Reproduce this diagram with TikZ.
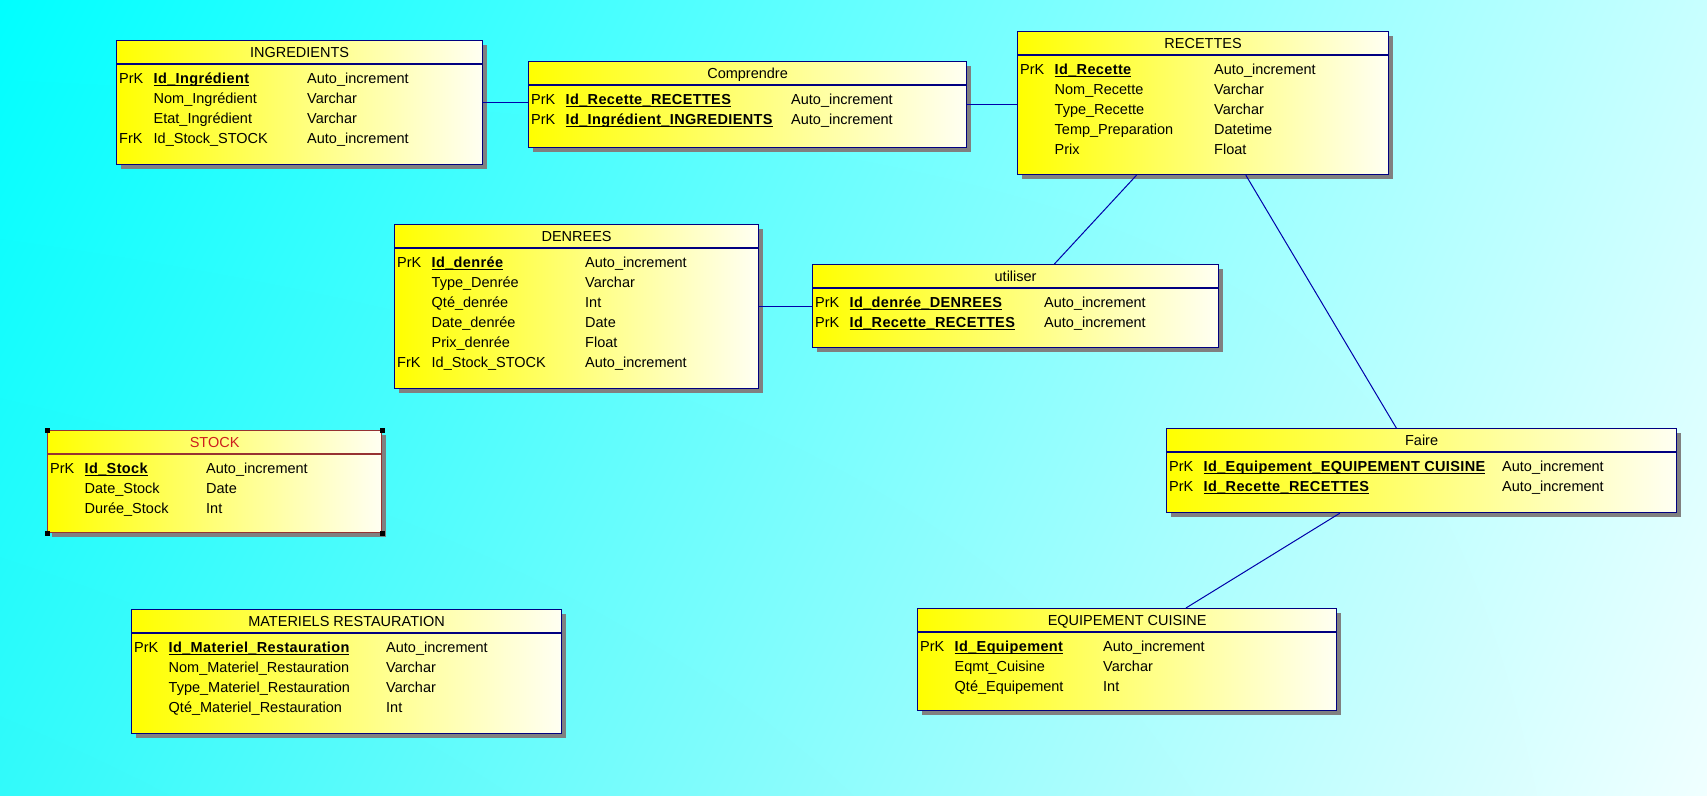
\documentclass[tikz,border=0pt]{standalone}
\usepackage{fontspec}
\setmainfont{Liberation Sans}
\usetikzlibrary{shadows,shadings,calc}

\definecolor{fondA}{RGB}{0,255,255}
\definecolor{fondB}{RGB}{200,255,255}
\definecolor{fondC}{RGB}{50,250,250}
\definecolor{fondD}{RGB}{240,255,255}
\definecolor{bleu}{RGB}{0,0,128}
\definecolor{lien}{RGB}{0,0,170}
\definecolor{jaune}{RGB}{255,255,0}
\definecolor{creme}{RGB}{255,255,242}
\definecolor{ombre}{RGB}{128,128,128}
\definecolor{brique}{RGB}{150,50,50}
\definecolor{rouge}{RGB}{205,30,30}

\tikzset{
  Table/.style={rectangle, draw=bleu, line width=1.2pt, anchor=north west, inner sep=0pt,
    left color=jaune, right color=creme,
    drop shadow={shadow xshift=4pt, shadow yshift=-4pt, fill=ombre, opacity=1}},
  Choisie/.style={draw=brique},
  Texte/.style={anchor=base west, inner sep=0pt, font=\fontsize{14.5}{17}\selectfont},
  Titre/.style={Texte, anchor=base},
  Lien/.style={draw=lien, line width=1pt},
}

\newsavebox\clebox
\newcommand{\Cle}[1]{\sbox\clebox{\bfseries\addfontfeature{LetterSpace=2.5}#1}\rlap{\rule[-2.6pt]{\wd\clebox}{1.1pt}}\usebox\clebox}

% table: [style], nom, x, y, largeur, hauteur, titre
\newcommand{\Entite}[7][]{
  \node[Table, #1, minimum width=#5pt, minimum height=#6pt] (#2) at (#3,#4) {};
  \draw[bleu, line width=1.2pt, #1] ([yshift=-24pt]#2.north west) -- ([yshift=-24pt]#2.north east);
  \node[Titre] (#2-titre) at ([yshift=-17pt]#2.north) {#7};
}
% ligne: table, rang, cle, champ, decalage du type, type
\newcommand{\Attribut}[6]{
  \if\relax\detokenize{#3}\relax\else
    \node[Texte] (#1-k#2) at ([xshift=3pt, yshift={-23.5pt-20pt*#2}]#1.north west) {#3};
  \fi
  \node[Texte] (#1-c#2) at ([xshift=37.5pt, yshift={-23.5pt-20pt*#2}]#1.north west) {#4};
  \node[Texte] (#1-t#2) at ([xshift=#5pt, yshift={-23.5pt-20pt*#2}]#1.north west) {#6};
}

\begin{document}
\begin{tikzpicture}[x=1pt, y=-1pt]
\useasboundingbox (0,0) rectangle (1707,795);
\shade[upper left=fondA, upper right=fondB, lower left=fondC, lower right=fondD] (0,0) rectangle (1707,795);

\Entite{ingr}{116}{40}{366}{124}{INGREDIENTS}
\Attribut{ingr}{1}{PrK}{\Cle{Id\_Ingrédient}}{191}{Auto\_increment}
\Attribut{ingr}{2}{}{Nom\_Ingrédient}{191}{Varchar}
\Attribut{ingr}{3}{}{Etat\_Ingrédient}{191}{Varchar}
\Attribut{ingr}{4}{FrK}{Id\_Stock\_STOCK}{191}{Auto\_increment}

\Entite{compr}{528}{61}{438}{86}{Comprendre}
\Attribut{compr}{1}{PrK}{\Cle{Id\_Recette\_RECETTES}}{263}{Auto\_increment}
\Attribut{compr}{2}{PrK}{\Cle{Id\_Ingrédient\_INGREDIENTS}}{263}{Auto\_increment}

\Entite{rec}{1017}{31}{371}{143}{RECETTES}
\Attribut{rec}{1}{PrK}{\Cle{Id\_Recette}}{197}{Auto\_increment}
\Attribut{rec}{2}{}{Nom\_Recette}{197}{Varchar}
\Attribut{rec}{3}{}{Type\_Recette}{197}{Varchar}
\Attribut{rec}{4}{}{Temp\_Preparation}{197}{Datetime}
\Attribut{rec}{5}{}{Prix}{197}{Float}

\Entite{den}{394}{224}{364}{164}{DENREES}
\Attribut{den}{1}{PrK}{\Cle{Id\_denrée}}{191}{Auto\_increment}
\Attribut{den}{2}{}{Type\_Denrée}{191}{Varchar}
\Attribut{den}{3}{}{Qté\_denrée}{191}{Int}
\Attribut{den}{4}{}{Date\_denrée}{191}{Date}
\Attribut{den}{5}{}{Prix\_denrée}{191}{Float}
\Attribut{den}{6}{FrK}{Id\_Stock\_STOCK}{191}{Auto\_increment}

\Entite{util}{812}{264}{406}{83}{utiliser}
\Attribut{util}{1}{PrK}{\Cle{Id\_denrée\_DENREES}}{232}{Auto\_increment}
\Attribut{util}{2}{PrK}{\Cle{Id\_Recette\_RECETTES}}{232}{Auto\_increment}

\Entite[Choisie]{stock}{47}{430}{334}{102}{\color{rouge}STOCK}
\Attribut{stock}{1}{PrK}{\Cle{Id\_Stock}}{159}{Auto\_increment}
\Attribut{stock}{2}{}{Date\_Stock}{159}{Date}
\Attribut{stock}{3}{}{Durée\_Stock}{159}{Int}
\foreach \c in {north west, north east, south west, south east}
  \fill[black] ([shift={(-2.5pt,-2.5pt)}]stock.\c) rectangle ([shift={(2.5pt,2.5pt)}]stock.\c);

\Entite{faire}{1166}{428}{510}{84}{Faire}
\Attribut{faire}{1}{PrK}{\Cle{Id\_Equipement\_EQUIPEMENT CUISINE}}{336}{Auto\_increment}
\Attribut{faire}{2}{PrK}{\Cle{Id\_Recette\_RECETTES}}{336}{Auto\_increment}

\Entite{mat}{131}{609}{430}{124}{MATERIELS RESTAURATION}
\Attribut{mat}{1}{PrK}{\Cle{Id\_Materiel\_Restauration}}{255}{Auto\_increment}
\Attribut{mat}{2}{}{Nom\_Materiel\_Restauration}{255}{Varchar}
\Attribut{mat}{3}{}{Type\_Materiel\_Restauration}{255}{Varchar}
\Attribut{mat}{4}{}{Qté\_Materiel\_Restauration}{255}{Int}

\Entite{equip}{917}{608}{419}{102}{EQUIPEMENT CUISINE}
\Attribut{equip}{1}{PrK}{\Cle{Id\_Equipement}}{186}{Auto\_increment}
\Attribut{equip}{2}{}{Eqmt\_Cuisine}{186}{Varchar}
\Attribut{equip}{3}{}{Qté\_Equipement}{186}{Int}

% liens
\draw[Lien] (ingr.east) -- (ingr.east -| compr.west);
\draw[Lien] (compr.east) -- (compr.east -| rec.west);
\draw[Lien] (den.east) -- (den.east -| util.west);
\draw[Lien] (rec) -- (util);
\draw[Lien] (rec) -- (faire);
\draw[Lien] ($(faire.south west)!0.34!(faire.south east)$) -- ($(equip.north west)!0.64!(equip.north east)$);
\end{tikzpicture}
\end{document}
